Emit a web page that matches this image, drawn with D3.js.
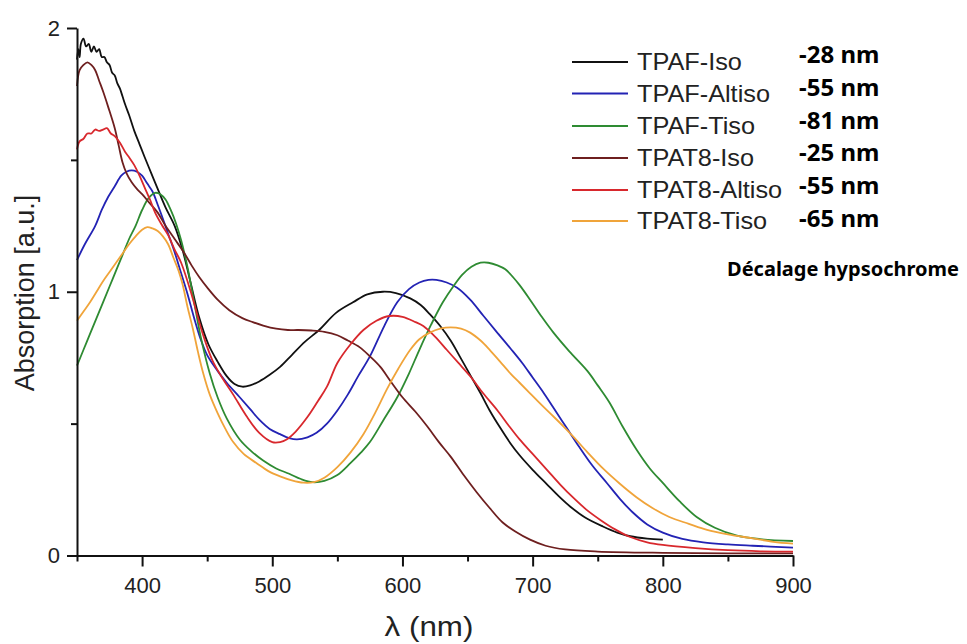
<!DOCTYPE html>
<html>
<head>
<meta charset="utf-8">
<script src="https://cdn.jsdelivr.net/npm/d3@7"></script>
<style>
  html, body { margin: 0; padding: 0; background: #fff; }
  svg { display: block; }
</style>
</head>
<body>
<svg id="chart" width="967" height="644"></svg>
<script>
// ---------------- DATA ----------------
const seriesNames = ["TPAF-Iso", "TPAF-Altiso", "TPAF-Tiso", "TPAT8-Iso", "TPAT8-Altiso", "TPAT8-Tiso"];
const shiftLabels = ["-28 nm", "-55 nm", "-81 nm", "-25 nm", "-55 nm", "-65 nm"];
const noteLabel = "Décalage hypsochrome";
const xTickLabels = [400, 500, 600, 700, 800, 900];
const xMinorTicks = [350, 450, 550, 650, 750, 850];
const yTickLabels = [0, 1, 2];
const yMinorTicks = [0.5, 1.5];
const seriesColors = ["#111111", "#2323b4", "#2e8b32", "#6e1f1f", "#d8282d", "#f0a43a"];

// [wavelength nm, absorption a.u.]
const tpafIso = [[350,1.88],[351,1.92],[352,1.89],[353,1.94],[355,1.96],[357,1.93],[359,1.94],[361,1.91],[363,1.93],[365,1.91],[367,1.92],[369,1.89],[371,1.89],[373,1.87],[375,1.86],[377,1.83],[379,1.82],[381,1.79],[383,1.77],[385,1.74],[387,1.71],[390,1.67],[394,1.61],[398,1.56],[402,1.51],[407,1.45],[412,1.39],[418,1.32],[425,1.25],[431,1.16],[437,1.04],[444,0.9],[451,0.8],[458,0.735],[465,0.68],[471,0.65],[477,0.64],[483,0.645],[490,0.66],[498,0.685],[506,0.715],[515,0.76],[525,0.81],[536,0.855],[549,0.92],[562,0.96],[573,0.99],[585,1.0],[595,0.995],[606,0.975],[614,0.95],[621,0.915],[629,0.87],[637,0.815],[644,0.755],[652,0.685],[660,0.615],[667,0.55],[675,0.485],[683,0.425],[690,0.38],[700,0.325],[711,0.27],[720,0.225],[729,0.185],[740,0.145],[754,0.11],[765,0.087],[775,0.073],[788,0.064],[800,0.06]];

const tpafAltiso = [[350,1.12],[356,1.18],[364,1.25],[369,1.31],[374,1.36],[379,1.40],[384,1.44],[388,1.455],[392,1.46],[396,1.455],[400,1.44],[404,1.41],[408,1.38],[412,1.33],[415,1.29],[420,1.22],[425,1.15],[430,1.07],[435,0.99],[440,0.9],[445,0.82],[450,0.76],[458,0.7],[465,0.655],[475,0.6],[483,0.555],[490,0.515],[498,0.48],[506,0.46],[513,0.445],[519,0.44],[527,0.448],[534,0.465],[542,0.5],[550,0.55],[558,0.61],[566,0.68],[575,0.755],[586,0.87],[596,0.96],[605,1.01],[613,1.035],[620,1.045],[626,1.045],[634,1.035],[642,1.015],[652,0.97],[662,0.91],[672,0.85],[683,0.785],[692,0.73],[700,0.675],[708,0.62],[716,0.56],[726,0.485],[736,0.41],[746,0.34],[757,0.275],[767,0.215],[777,0.163],[788,0.118],[800,0.087],[815,0.063],[831,0.05],[850,0.042],[869,0.037],[900,0.03]];

const tpafTiso = [[350,0.72],[355,0.78],[360,0.84],[365,0.9],[370,0.96],[375,1.02],[380,1.08],[385,1.14],[390,1.2],[395,1.25],[400,1.31],[405,1.355],[410,1.375],[414,1.37],[418,1.35],[422,1.31],[426,1.26],[430,1.195],[435,1.09],[440,0.96],[445,0.83],[452,0.69],[458,0.6],[465,0.52],[475,0.44],[484,0.395],[493,0.36],[503,0.33],[513,0.31],[522,0.29],[531,0.278],[540,0.283],[550,0.305],[560,0.35],[568,0.39],[575,0.43],[585,0.51],[596,0.6],[605,0.69],[613,0.78],[622,0.875],[631,0.96],[639,1.02],[646,1.065],[653,1.095],[660,1.11],[666,1.11],[673,1.1],[679,1.085],[685,1.055],[690,1.025],[698,0.97],[707,0.905],[716,0.845],[728,0.775],[742,0.7],[750,0.645],[759,0.58],[769,0.49],[780,0.4],[790,0.33],[800,0.275],[813,0.205],[826,0.146],[840,0.105],[857,0.075],[875,0.062],[900,0.055]];

const tpat8Iso = [[350,1.78],[352,1.84],[355,1.86],[358,1.87],[361,1.86],[364,1.84],[367,1.8],[370,1.76],[374,1.7],[379,1.62],[382,1.555],[385,1.49],[388,1.45],[392,1.415],[396,1.39],[400,1.37],[406,1.335],[412,1.3],[418,1.25],[425,1.2],[432,1.15],[438,1.1],[444,1.055],[451,1.01],[458,0.97],[467,0.93],[477,0.9],[485,0.885],[493,0.872],[503,0.86],[512,0.855],[520,0.855],[530,0.853],[540,0.848],[550,0.835],[558,0.815],[567,0.79],[575,0.755],[583,0.715],[591,0.66],[600,0.6],[610,0.545],[619,0.49],[628,0.43],[637,0.375],[647,0.305],[657,0.24],[667,0.18],[677,0.125],[687,0.09],[698,0.06],[710,0.037],[725,0.023],[750,0.015],[800,0.01],[850,0.008],[900,0.008]];

const tpat8Altiso = [[350,1.54],[352,1.57],[355,1.58],[358,1.6],[361,1.6],[364,1.615],[367,1.61],[370,1.615],[373,1.62],[376,1.6],[379,1.59],[383,1.565],[387,1.53],[390,1.51],[394,1.48],[398,1.44],[402,1.395],[406,1.35],[410,1.3],[415,1.255],[420,1.215],[425,1.16],[430,1.11],[438,0.99],[446,0.85],[454,0.74],[462,0.67],[470,0.61],[480,0.53],[490,0.465],[500,0.43],[506,0.43],[511,0.44],[518,0.47],[527,0.525],[535,0.585],[542,0.64],[550,0.73],[560,0.8],[570,0.855],[580,0.89],[590,0.908],[600,0.905],[610,0.885],[616,0.87],[625,0.83],[634,0.78],[643,0.73],[652,0.68],[662,0.615],[673,0.55],[682,0.49],[690,0.44],[700,0.385],[711,0.325],[721,0.27],[731,0.22],[741,0.175],[752,0.135],[763,0.1],[775,0.07],[788,0.05],[800,0.04],[825,0.028],[850,0.02],[875,0.016],[900,0.015]];

const tpat8Tiso = [[350,0.89],[355,0.925],[360,0.96],[365,1.0],[370,1.04],[375,1.075],[380,1.11],[385,1.145],[390,1.18],[395,1.21],[400,1.235],[404,1.245],[408,1.24],[412,1.23],[416,1.21],[420,1.18],[424,1.13],[428,1.08],[431,1.03],[435,0.94],[439,0.86],[443,0.77],[447,0.69],[452,0.61],[458,0.54],[464,0.48],[470,0.43],[478,0.385],[488,0.35],[497,0.32],[506,0.3],[515,0.285],[524,0.276],[532,0.278],[540,0.295],[550,0.335],[560,0.39],[570,0.46],[580,0.55],[588,0.63],[597,0.71],[606,0.78],[613,0.82],[621,0.845],[629,0.86],[637,0.865],[645,0.86],[652,0.845],[660,0.815],[667,0.78],[675,0.735],[683,0.69],[690,0.655],[698,0.615],[707,0.57],[716,0.527],[724,0.488],[731,0.452],[742,0.392],[754,0.33],[767,0.272],[780,0.22],[792,0.18],[805,0.146],[820,0.12],[834,0.097],[850,0.08],[869,0.065],[885,0.052],[900,0.045]];

const seriesData = [tpafIso, tpafAltiso, tpafTiso, tpat8Iso, tpat8Altiso, tpat8Tiso];

// ---------------- CHART ----------------
const svg = d3.select("#chart");
const sans = "'Liberation Sans', Arial, Helvetica, sans-serif";
const boldFont = "'Noto Sans', 'Open Sans', sans-serif";

const x = d3.scaleLinear().domain([350, 900]).range([77, 793]);
const y = d3.scaleLinear().domain([0, 2]).range([555.5, 28]);

const line = d3.line()
  .x(d => x(d[0]))
  .y(d => y(d[1]))
  .curve(d3.curveCatmullRom.alpha(0.5));

const plot = svg.append("g");
seriesData.forEach((data, i) => {
  plot.append("path")
    .datum(data)
    .attr("fill", "none")
    .attr("stroke", seriesColors[i])
    .attr("stroke-width", 1.8)
    .attr("stroke-linejoin", "round")
    .attr("d", line);
});

// X axis
const gx = svg.append("g").attr("transform", `translate(0,${y(0)})`);
gx.call(d3.axisBottom(x).tickValues(xTickLabels).tickFormat(d3.format("d")).tickSize(11).tickPadding(11).tickSizeOuter(0));
const gxm = svg.append("g").attr("transform", `translate(0,${y(0)})`);
gxm.call(d3.axisBottom(x).tickValues(xMinorTicks).tickFormat("").tickSize(6).tickSizeOuter(0));
gxm.select(".domain").remove();

// Y axis
const gy = svg.append("g").attr("transform", `translate(${x(350)},0)`);
gy.call(d3.axisLeft(y).tickValues(yTickLabels).tickFormat(d3.format("d")).tickSize(10).tickPadding(7).tickSizeOuter(0));
const gym = svg.append("g").attr("transform", `translate(${x(350)},0)`);
gym.call(d3.axisLeft(y).tickValues(yMinorTicks).tickFormat("").tickSize(6).tickSizeOuter(0));
gym.select(".domain").remove();

svg.selectAll(".domain, .tick line").attr("stroke", "#111").attr("stroke-width", 2);
svg.selectAll(".tick text").attr("font-family", sans).attr("font-size", 22).attr("fill", "#222");

// Axis titles
svg.append("text")
  .attr("transform", "translate(429,636) scale(1.12,1)")
  .attr("text-anchor", "middle")
  .attr("font-family", sans).attr("font-size", 28).attr("fill", "#222")
  .text("λ (nm)");

svg.append("text")
  .attr("transform", "translate(34,293) rotate(-90)")
  .attr("text-anchor", "middle")
  .attr("font-family", sans).attr("font-size", 27).attr("fill", "#222")
  .text("Absorption [a.u.]");

// Legend
const legendY = [62, 93.5, 126, 158, 190, 221];
const legend = svg.append("g");
seriesNames.forEach((name, i) => {
  legend.append("line")
    .attr("x1", 572).attr("x2", 628)
    .attr("y1", legendY[i]).attr("y2", legendY[i])
    .attr("stroke", seriesColors[i]).attr("stroke-width", 1.8);
  legend.append("text")
    .attr("transform", `translate(637,${legendY[i] + 8}) scale(1.1,1)`)
    .attr("font-family", sans).attr("font-size", 23).attr("fill", "#222")
    .text(name);
});

// Shift labels
const shiftY = [63, 96, 129, 161, 194, 227];
shiftLabels.forEach((t, i) => {
  svg.append("text")
    .attr("x", 799).attr("y", shiftY[i])
    .attr("font-family", boldFont)
    .attr("font-weight", "bold").attr("font-size", 24).attr("fill", "#000")
    .text(t);
});

svg.append("text")
  .attr("x", 727).attr("y", 276)
  .attr("font-family", boldFont)
  .attr("font-weight", "bold").attr("font-size", 20).attr("fill", "#000")
  .text(noteLabel);
</script>
</body>
</html>
